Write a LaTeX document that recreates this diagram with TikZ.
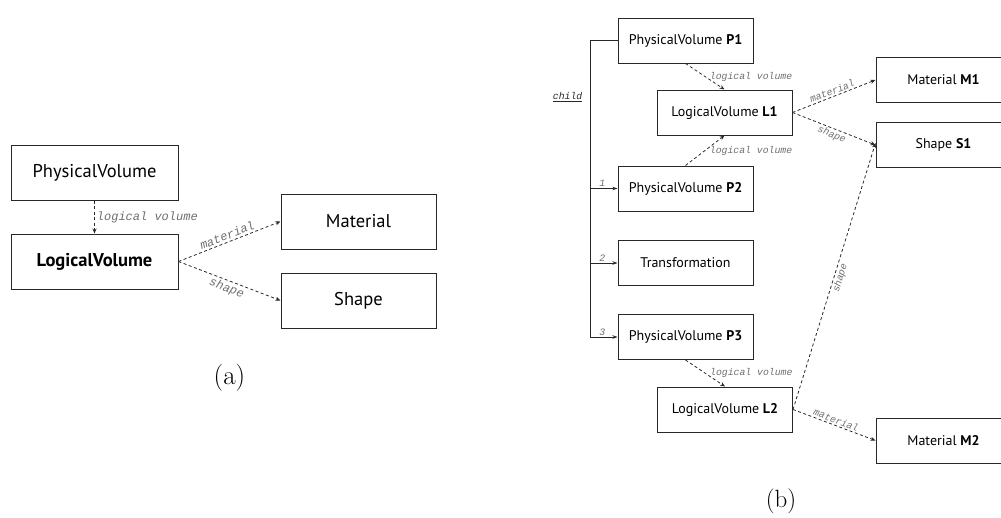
\documentclass[tikz,border=0pt]{standalone}
\usepackage{fontspec}
\setmainfont{PT Sans}
\newfontfamily\lblfont{Liberation Mono}
\newfontfamily\capfont{Latin Modern Roman}
\usetikzlibrary{arrows.meta}
\definecolor{lblgray}{RGB}{110,110,110}
\definecolor{linegray}{RGB}{40,40,40}
\tikzset{
  boxa/.style={draw=linegray, line width=1pt, minimum width=167pt, minimum height=55pt, inner sep=0pt, font=\fontsize{18.5}{22}\selectfont},
  boxb/.style={draw=linegray, line width=1pt, minimum width=135pt, minimum height=45pt, inner sep=0pt, font=\fontsize{14}{17}\selectfont},
  refarrow/.style={draw=linegray, line width=0.8pt, dash pattern=on 3pt off 2.5pt, -{Stealth[length=5pt,width=4pt]}},
  treearrow/.style={draw=linegray, line width=0.8pt, -{Stealth[length=5pt,width=3.5pt]}},
  treeline/.style={draw=linegray, line width=0.8pt},
  lbla/.style={text=lblgray, font=\lblfont\itshape\fontsize{12}{14}\selectfont, inner sep=2pt},
  lblb/.style={text=lblgray, font=\lblfont\itshape\fontsize{9.8}{12}\selectfont, inner sep=1.5pt},
  caption/.style={font=\capfont\fontsize{26}{30}\selectfont}
}
\begin{document}
\begin{tikzpicture}[x=1pt,y=-1pt]
\useasboundingbox (0,0) rectangle (1001,517);
% (a)
\node[boxa] (pva) at (94.5,172.5) {PhysicalVolume};
\node[boxa] (lva) at (94.5,261.5) {\textbf{LogicalVolume}};
\node[boxa, minimum width=155pt] (mata) at (358.5,221.5) {Material};
\node[boxa, minimum width=155pt] (shpa) at (358.5,300.5) {Shape};
\draw[refarrow] (pva) -- node[lbla, anchor=west, pos=0.5] {logical volume} (lva);
\draw[refarrow] (lva.east) -- node[lbla, sloped, above, pos=0.5] {material} (mata.west);
\draw[refarrow] (lva.east) -- node[lbla, sloped, below, pos=0.5] {shape} (shpa.west);
\node[caption, font=\capfont\fontsize{27}{30}\selectfont] (capa) at (229.5,378) {(a)};
% (b)
\node[boxb] (p1) at (685.5,40.5) {PhysicalVolume \textbf{P1}};
\node[boxb] (l1) at (724.5,112.5) {LogicalVolume \textbf{L1}};
\node[boxb] (p2) at (685.5,188.5) {PhysicalVolume \textbf{P2}};
\node[boxb] (tr) at (685.5,263) {Transformation};
\node[boxb] (p3) at (685.5,337) {PhysicalVolume \textbf{P3}};
\node[boxb] (l2) at (725,409.5) {LogicalVolume \textbf{L2}};
\node[boxb] (m1) at (943.5,80) {Material \textbf{M1}};
\node[boxb] (s1) at (943.5,145) {Shape \textbf{S1}};
\node[boxb] (m2) at (943.5,440.5) {Material \textbf{M2}};
% tree
\coordinate (tx) at (590,0);
\draw[treeline] (p1.west) -- (p1.west -| tx) -- (p3.west -| tx);
\draw[treearrow] (p2.west -| tx) -- node[lblb, above, pos=0.45] {1} (p2.west);
\draw[treearrow] (tr.west -| tx) -- node[lblb, above, pos=0.45] {2} (tr.west);
\draw[treearrow] (p3.west -| tx) -- node[lblb, above, pos=0.45] {3} (p3.west);
\node[lblb, text=linegray, anchor=east] (child) at (584,97) {\underline{child}};
% references
\draw[refarrow] (p1.south) -- node[lblb, anchor=west, pos=0.5, xshift=3pt] {logical volume} (l1.north);
\draw[refarrow] (p2.north) -- node[lblb, anchor=west, pos=0.5, xshift=3pt] {logical volume} (l1.south);
\draw[refarrow] (p3.south) -- node[lblb, anchor=west, pos=0.5, xshift=3pt] {logical volume} (l2.north);
\draw[refarrow] (l1.east) -- node[lblb, sloped, above, pos=0.5] {material} (m1.west);
\draw[refarrow] (l1.east) -- node[lblb, sloped, below, pos=0.5] {shape} (s1.west);
\draw[refarrow] (l2.east) -- node[lblb, sloped, below, pos=0.5] {shape} ([yshift=2pt]s1.west);
\draw[refarrow] (l2.east) -- node[lblb, sloped, above, pos=0.5] {material} (m2.west);
\node[caption, font=\capfont\fontsize{25}{30}\selectfont] (capb) at (781,501) {(b)};
\end{tikzpicture}
\end{document}
